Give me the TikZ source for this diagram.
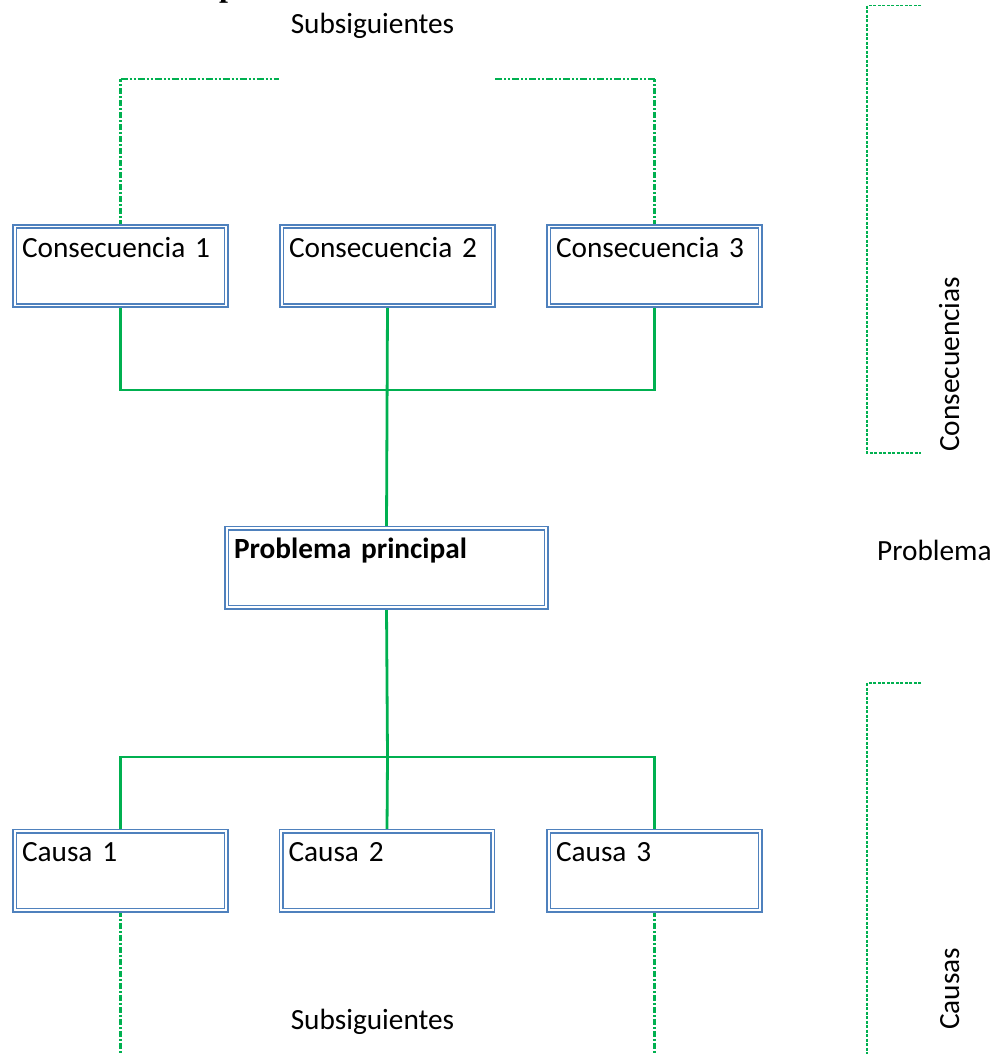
\documentclass[tikz,border=0pt]{standalone}
\usepackage{fontspec}
\setmainfont{Carlito}
\newfontfamily\tnrfont{Liberation Serif}
\usetikzlibrary{backgrounds}
\definecolor{boxblue}{HTML}{4F81BD}
\definecolor{lgreen}{HTML}{00B050}
\begin{document}
\begin{tikzpicture}[x=1pt,y=-1pt,
  font=\fontsize{29.3}{35}\selectfont,
  box/.style={draw=boxblue, double=white, line width=1.6pt, double distance=1.8pt,
    fill=white, inner xsep=7.3pt, inner ysep=11.5pt, text height=19pt, text depth=37pt,
    align=left, anchor=center, text width=197pt},
  wide/.style={text width=305pt},
  link/.style={draw=lgreen, line width=2.8pt},
  dashdotv/.style={draw=lgreen, line width=2.6pt, dash pattern=on 6pt off 2pt on 2pt off 2pt},
  dashdoth/.style={draw=lgreen, line width=2.6pt, dash pattern=on 7pt off 2pt on 2pt off 2pt on 2pt off 2pt},
  bracket/.style={draw=lgreen, line width=1.2pt, dash pattern=on 3pt off 1.5pt},
  plain/.style={inner sep=0pt}]
\useasboundingbox (0,0) rectangle (994,1054);

% cut-off heading fragment
\node[plain, anchor=base west, font=\tnrfont\bfseries\fontsize{32}{36}\selectfont] (head) at (219,-3.4) {p};

\node[plain, anchor=base] (subtop) at (372.5,34) {Subsiguientes};

\node[box] (c1) at (120.5,266) {Consecuencia 1};
\node[box] (c2) at (387.5,266) {Consecuencia 2};
\node[box] (c3) at (654.5,266) {Consecuencia 3};

\node[box, wide] (pp) at (386.5,567.5) {\textbf{Problema principal}};

\node[box] (k1) at (120.5,870.5) {Causa 1};
\node[box] (k2) at (387,870.5) {Causa 2};
\node[box] (k3) at (654.5,870.5) {Causa 3};

\node[plain, anchor=base] (subbot) at (372.5,1029) {Subsiguientes};

\node[plain, anchor=base west] (probr) at (877,560) {Problema};
\node[plain, anchor=base west, rotate=90] (consr) at (959,452) {Consecuencias};
\node[plain, anchor=base west, rotate=90] (causr) at (959,1030) {Causas};

\coordinate (jt) at (387.5,390);
\coordinate (jb) at (387.5,757);
\coordinate (tl) at (279,79);
\coordinate (tr) at (494,79);
\coordinate (tlc) at (120.5,79);
\coordinate (trc) at (654.5,79);
\coordinate (bl) at (120.5,1058);
\coordinate (br) at (654.5,1058);

\coordinate (bt1) at (921,5.7);
\coordinate (bt2) at (867,5.7);
\coordinate (bt3) at (867,453);
\coordinate (bt4) at (921,453);
\coordinate (bb1) at (921,683);
\coordinate (bb2) at (867,683);
\coordinate (bb3) at (867,1058);

\begin{pgfonlayer}{background}
  \draw[link] (c1.south) |- (jt) -| (c3.south);
  \draw[link] (c2.south) -- (pp.north);
  \draw[link] (pp.south) -- (jb);
  \draw[link] (k1.north) |- (jb) -| (k3.north);
  \draw[link] (jb) -- (k2.north);
  \draw[dashdotv] (c1.north) -- (tlc);
  \draw[dashdoth] (tlc) -- (tl);
  \draw[dashdotv] (c3.north) -- (trc);
  \draw[dashdoth] (trc) -- (tr);
  \draw[dashdotv] (k1.south) -- (bl);
  \draw[dashdotv] (k3.south) -- (br);
  \draw[bracket] (bt1) -- (bt2) -- (bt3) -- (bt4);
  \draw[bracket] (bb1) -- (bb2) -- (bb3);
\end{pgfonlayer}
\end{tikzpicture}
\end{document}
